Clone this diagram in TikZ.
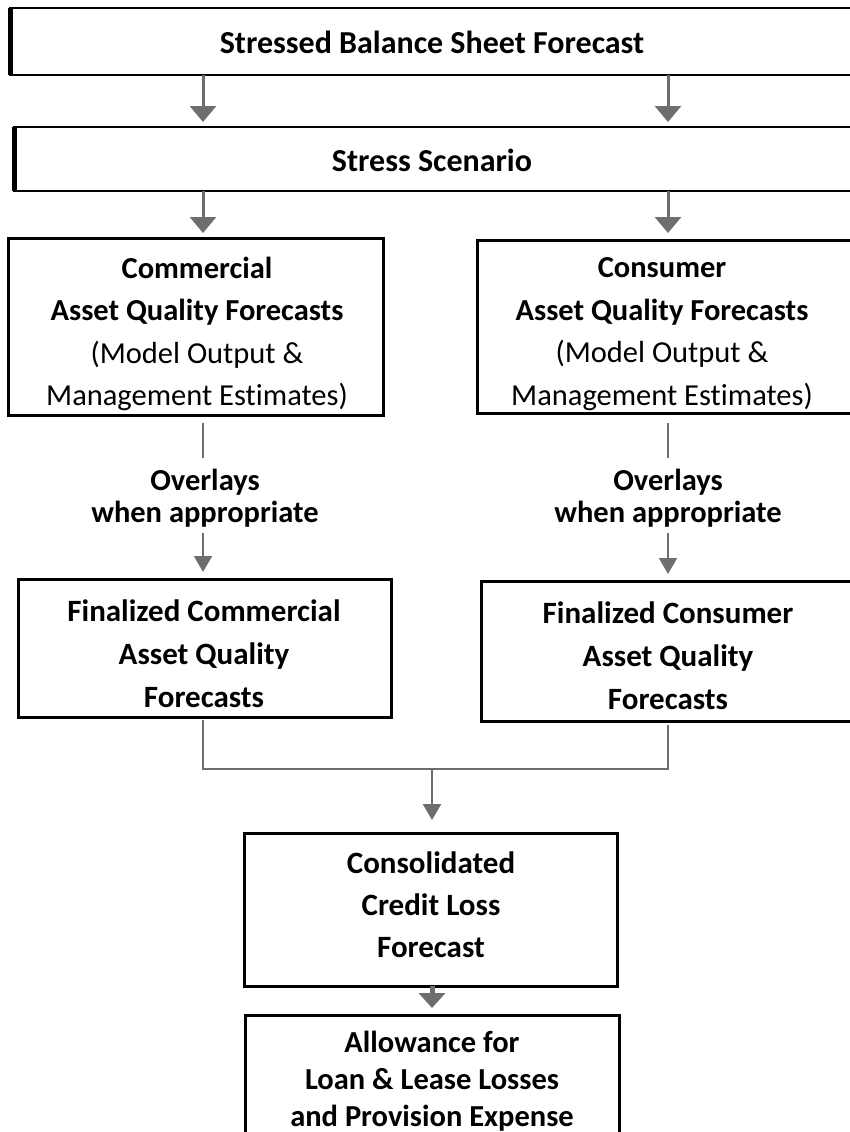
\documentclass[tikz,border=0pt]{standalone}
\usepackage{fontspec}
\setmainfont{Carlito}[Ligatures=NoCommon]
\usetikzlibrary{arrows.meta}
\definecolor{arrgray}{RGB}{110,110,110}
\begin{document}
\begin{tikzpicture}[x=1pt,y=-1pt,
  box/.style={draw=black, line width=3pt, inner sep=0pt, outer sep=0pt},
  bar/.style={draw=black, line width=2pt, inner sep=0pt, outer sep=0pt},
  txt/.style={align=center, font=\fontsize{30.5}{42}\selectfont, inner sep=0pt},
  bigarr/.style={draw=arrgray, line width=3pt, -{Triangle[width=26pt,length=16pt]}},
  midarr/.style={draw=arrgray, line width=2.5pt, -{Triangle[width=18pt,length=16pt]}},
  smallarr/.style={draw=arrgray, line width=2pt, -{Triangle[width=18pt,length=16pt]}},
  conn/.style={draw=arrgray, line width=2.2pt},
]
\useasboundingbox (0,0) rectangle (850,1132);
\clip (0,0) rectangle (850,1132);
\fill[white] (0,0) rectangle (850,1132);

\coordinate (lx) at (203,0);
\coordinate (rx) at (668,0);

% top bars
\node[bar, minimum width=844pt, minimum height=67pt] (top) at (432,41.5) {};
\draw[line width=5pt] (top.north west) -- (top.south west);
\node[txt, font=\fontsize{32}{42}\selectfont\bfseries] (toptxt) at (432,42) {Stressed Balance Sheet Forecast};

\node[bar, minimum width=840pt, minimum height=64pt] (stress) at (434,159) {};
\draw[line width=5pt] (stress.north west) -- (stress.south west);
\node[txt, font=\fontsize{32}{42}\selectfont\bfseries] (stresstxt) at (432,160) {Stress Scenario};

% asset quality boxes
\node[box, minimum width=375pt, minimum height=177pt] (comm) at (195.5,326.5) {};
\node[txt, font=\fontsize{30.5}{42.5}\selectfont] (commtxt) at (197,334) {\textbf{Commercial}\\\textbf{Asset Quality Forecasts}\\(Model Output \&\\Management Estimates)};

\node[box, minimum width=383pt, minimum height=173pt] (cons) at (668.5,326.5) {};
\node[txt, font=\fontsize{30.5}{42.5}\selectfont] (constxt) at (662,334) {\textbf{Consumer}\\\textbf{Asset Quality Forecasts}\\(Model Output \&\\Management Estimates)};

% overlays
\node[txt, font=\fontsize{30.5}{32}\selectfont\bfseries] (ovl) at (205,498) {Overlays\\when appropriate};
\node[txt, font=\fontsize{30.5}{32}\selectfont\bfseries] (ovr) at (668,498) {Overlays\\when appropriate};

% finalized boxes
\node[box, minimum width=373pt, minimum height=138pt] (fcomm) at (204.5,648) {};
\node[txt, font=\fontsize{31}{43}\selectfont\bfseries] (fcommtxt) at (204,654) {Finalized Commercial\\Asset Quality\\Forecasts};

\node[box, minimum width=379pt, minimum height=140pt] (fcons) at (670.5,651) {};
\node[txt, font=\fontsize{31}{43}\selectfont\bfseries] (fconstxt) at (668,656) {Finalized Consumer\\Asset Quality\\Forecasts};

% consolidated
\node[box, minimum width=373pt, minimum height=153pt] (consol) at (430.5,909.5) {};
\node[txt, font=\fontsize{31}{42}\selectfont\bfseries] (consoltxt) at (431,905) {Consolidated\\Credit Loss\\Forecast};

% allowance
\node[box, minimum width=374pt, minimum height=130pt] (allow) at (432,1080) {};
\node[txt, font=\fontsize{30.5}{37}\selectfont\bfseries] (allowtxt) at (432,1081) {Allowance for\\Loan \& Lease Losses\\and Provision Expense};

% arrows top
\draw[bigarr] (top.south -| lx) -- ([yshift=5pt]stress.north -| lx);
\draw[bigarr] (top.south -| rx) -- ([yshift=5pt]stress.north -| rx);
\draw[bigarr] (stress.south -| lx) -- ([yshift=5pt]comm.north -| lx);
\draw[bigarr] (stress.south -| rx) -- ([yshift=7pt]cons.north -| rx);

% overlay connectors
\draw[conn] ([yshift=-8pt]comm.south -| lx) -- ([yshift=11pt]ovl.north -| lx);
\draw[smallarr] ([yshift=-6pt]ovl.south -| lx) -- ([yshift=7pt]fcomm.north -| lx);
\draw[conn] ([yshift=-10pt]cons.south -| rx) -- ([yshift=11pt]ovr.north -| rx);
\draw[smallarr] ([yshift=-6pt]ovr.south -| rx) -- ([yshift=7pt]fcons.north -| rx);

% merge
\coordinate (j) at (432,769);
\draw[conn] ([yshift=-3pt]fcomm.south -| lx) |- (j) -| ([yshift=-4pt]fcons.south -| rx);
\draw[midarr] (j) -- ([yshift=13pt]consol.north -| j);

% final arrow
\draw[draw=arrgray, line width=5pt, -{Triangle[width=26pt,length=15pt]}] (consol.south -| j) -- ([yshift=7pt]allow.north -| j);
\end{tikzpicture}
\end{document}
